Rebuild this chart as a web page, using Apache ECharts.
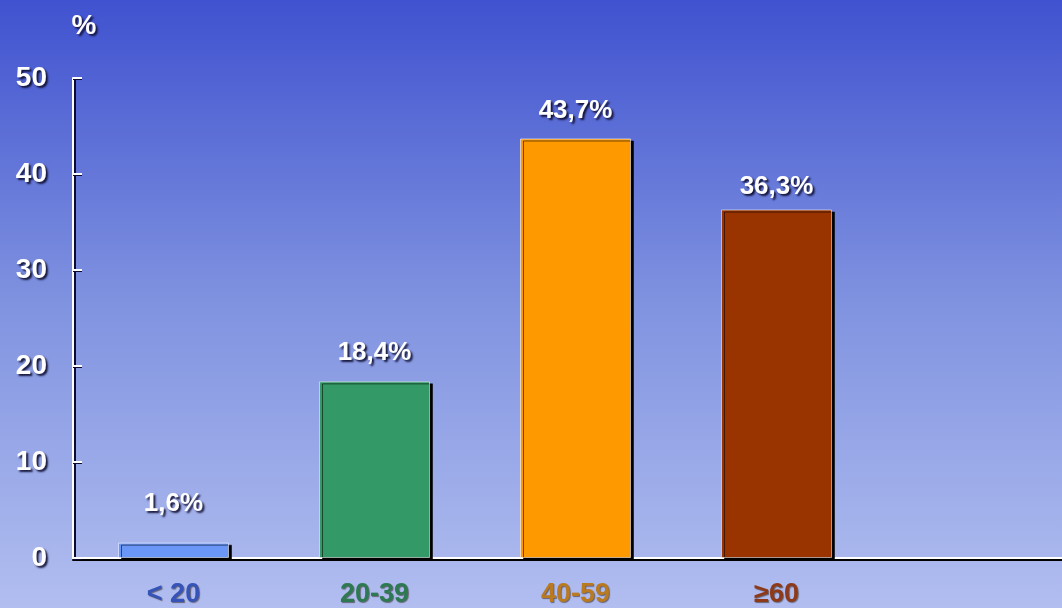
<!DOCTYPE html>
<html>
<head>
<meta charset="utf-8">
<script src="https://cdn.jsdelivr.net/npm/echarts@6/dist/echarts.min.js"></script>
<style>
  html, body { margin: 0; padding: 0; overflow: hidden; width: 1062px; height: 608px; }
  /* the category band runs past the right edge, so the canvas is a little wider than the page */
  #chart { width: 1078px; height: 608px; }
</style>
</head>
<body>
<div id="chart"></div>
<script>
// Age groups and their share (%)
const categories = ['< 20', '20-39', '40-59', '≥60', ''];
const shares = [1.6, 18.4, 43.7, 36.3, null];
const barColors = ['#6a96f8', '#339966', '#ff9900', '#993300', '#000'];
const labelColors = ['#3553b8', '#2d7a52', '#b97a22', '#8e3a18', '#000'];
const labelGaps = [26, 16, 15, 10, 0];
const yTicks = [0, 10, 20, 30, 40, 50];

const FONT = '"Liberation Sans", Arial, sans-serif';
const shadowText = {
  color: '#ffffff',
  fontFamily: FONT,
  fontWeight: 'bold',
  textShadowColor: 'rgba(15,15,50,0.95)',
  textShadowOffsetX: 2,
  textShadowOffsetY: 2,
  textShadowBlur: 2
};

const chart = echarts.init(document.getElementById('chart'));
chart.setOption({
  backgroundColor: {
    type: 'linear', x: 0, y: 0, x2: 0, y2: 1,
    colorStops: [
      { offset: 0, color: '#4052cf' },
      { offset: 0.5, color: '#8093e0' },
      { offset: 1, color: '#b2bef0' }
    ]
  },
  animation: false,
  grid: { left: 73, right: 0, top: 78, bottom: 47 },
  xAxis: {
    type: 'category',
    data: categories,
    axisLine: {
      lineStyle: { color: '#ffffff', width: 2, shadowColor: '#000000', shadowOffsetY: 2 }
    },
    axisTick: { show: false },
    axisLabel: {
      margin: 23,
      fontSize: 27,
      fontFamily: FONT,
      fontWeight: 'bold',
      textShadowColor: 'rgba(40,30,20,0.55)',
      textShadowOffsetX: 1,
      textShadowOffsetY: 1,
      textShadowBlur: 1,
      color: (v, i) => labelColors[i]
    }
  },
  yAxis: {
    type: 'value',
    min: yTicks[0],
    max: yTicks[yTicks.length - 1],
    interval: 10,
    name: '%',
    nameLocation: 'end',
    nameGap: 38,
    nameTextStyle: Object.assign({}, shadowText, { fontSize: 28, padding: [0, 0, 0, 22] }),
    splitLine: { show: false },
    axisLine: {
      show: true,
      lineStyle: { color: '#ffffff', width: 2, shadowColor: '#0a0a30', shadowOffsetX: 2 }
    },
    axisTick: {
      show: true, inside: true, length: 9,
      lineStyle: { color: '#ffffff', width: 2, shadowColor: '#0a0a30', shadowOffsetY: 1 }
    },
    axisLabel: Object.assign({}, shadowText, { fontSize: 28, margin: 26 })
  },
  series: [{
    type: 'bar',
    data: shares.map((v, i) => ({
      value: v,
      itemStyle: { color: barColors[i] },
      label: { distance: labelGaps[i] }
    })),
    barWidth: 111,
    itemStyle: {
      borderColor: 'rgba(255,255,255,0.55)',
      borderWidth: 1,
      shadowColor: '#000000',
      shadowOffsetX: 3,
      shadowOffsetY: 2
    },
    label: Object.assign({}, shadowText, {
      show: true,
      position: 'top',
      fontSize: 26,
      formatter: p => (p.value == null ? '' : String(p.value).replace('.', ',') + '%')
    })
  }]
});
</script>
</body>
</html>
